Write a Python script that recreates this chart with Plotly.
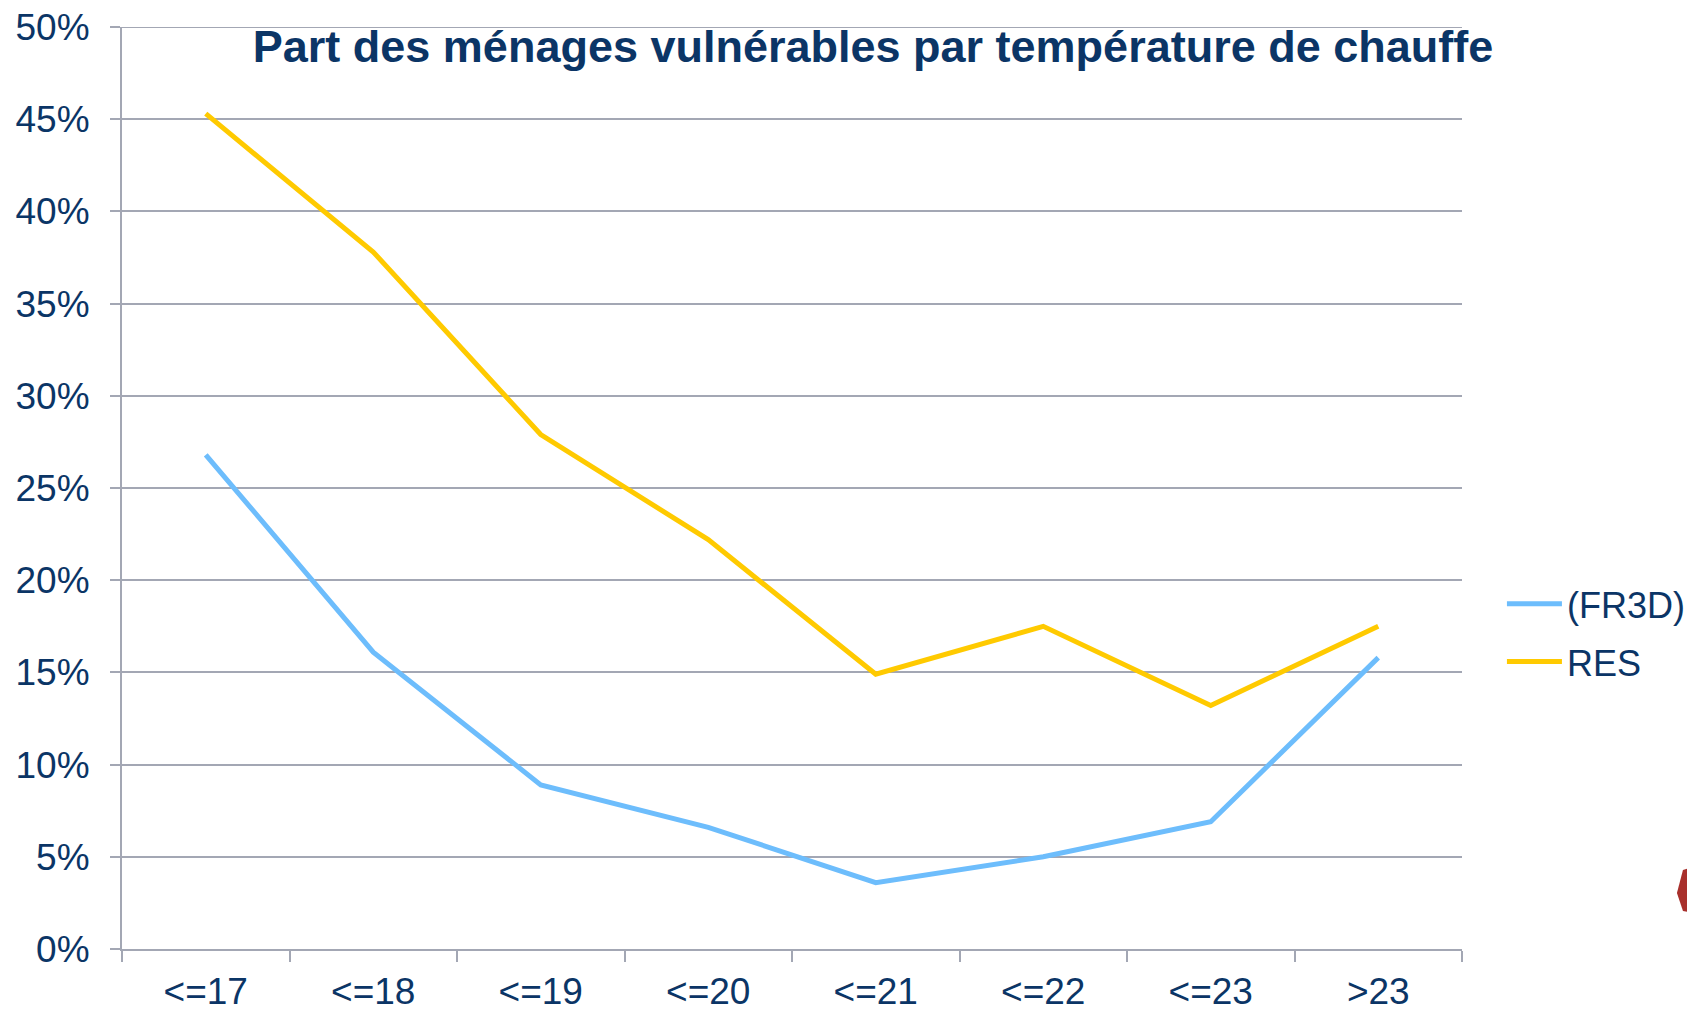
import plotly.graph_objects as go

categories = ["<=17", "<=18", "<=19", "<=20", "<=21", "<=22", "<=23", ">23"]
fr3d = [0.268, 0.161, 0.089, 0.066, 0.036, 0.050, 0.069, 0.158]
res = [0.453, 0.378, 0.279, 0.222, 0.149, 0.175, 0.132, 0.175]
y_ticks = [0, 0.05, 0.10, 0.15, 0.20, 0.25, 0.30, 0.35, 0.40, 0.45, 0.50]
y_labels = ["0%", "5%", "10%", "15%", "20%", "25%", "30%", "35%", "40%", "45%", "50%"]

NAVY = "#0B3566"
GRID = "#A3A7B4"
FONT = "Liberation Sans, Arial, sans-serif"

W, H = 1687, 1003

fig = go.Figure()
fig.add_trace(go.Scatter(x=categories, y=fr3d, mode="lines", name="(FR3D)",
                         legendgroup="a",
                         line=dict(color="#6DBDFC", width=5)))
fig.add_trace(go.Scatter(x=categories, y=res, mode="lines", name="RES",
                         legendgroup="b",
                         line=dict(color="#FFCA00", width=5)))

fig.update_layout(
    width=W, height=H,
    margin=dict(l=114, r=233, t=19, b=62, autoexpand=False),
    paper_bgcolor="white", plot_bgcolor="white",
    font=dict(family=FONT, color=NAVY, size=37),
    title=dict(text="<b>Part des ménages vulnérables par température de chauffe</b>",
               xref="container", x=865 / W, xanchor="center",
               yref="container", y=1 - 38 / H, yanchor="middle",
               font=dict(family=FONT, size=45, color=NAVY)),
    legend=dict(x=1.0298, xanchor="left", y=0.343, yanchor="middle",
                font=dict(family=FONT, size=36, color=NAVY),
                bgcolor="rgba(0,0,0,0)", tracegroupgap=8, itemwidth=55),
    showlegend=True,
)
fig.update_xaxes(type="category", categoryorder="array", categoryarray=categories,
                 range=[-0.5, len(categories) - 0.5],
                 showline=True, linecolor=GRID, linewidth=2,
                 ticks="outside", tickson="boundaries", ticklen=11, tickcolor=GRID, tickwidth=2,
                 showgrid=False, ticklabelstandoff=9,
                 tickfont=dict(family=FONT, size=37, color=NAVY))
fig.update_yaxes(range=[0, 0.5], tickvals=y_ticks, ticktext=y_labels,
                 showline=True, linecolor=GRID, linewidth=2,
                 ticks="outside", ticklen=10, tickcolor=GRID, tickwidth=2,
                 showgrid=True, gridcolor=GRID, gridwidth=2, zeroline=False,
                 ticklabelstandoff=13, ticklabeloverflow="allow",
                 tickfont=dict(family=FONT, size=37, color=NAVY))

# top gridline at the edge of the range (plotly omits the edge gridline)
fig.add_hline(y=y_ticks[-1], line=dict(color=GRID, width=2), layer="below")

# partial logo at the right edge (decoration)
fig.add_shape(type="path", xref="paper", yref="paper",
              path="M 1.1604 0.0607 L 1.1649 0.0857 L 1.1745 0.0900 L 1.1745 0.0390 L 1.1649 0.0412 Z",
              fillcolor="#A8302C", line=dict(width=0), layer="above")
fig.add_shape(type="path", xref="paper", yref="paper",
              path="M 1.1716 0.1074 L 1.1745 0.1226 L 1.1745 0.0933 Z",
              fillcolor="#F07A10", line=dict(width=0), layer="above")

fig.write_html("out.html")
